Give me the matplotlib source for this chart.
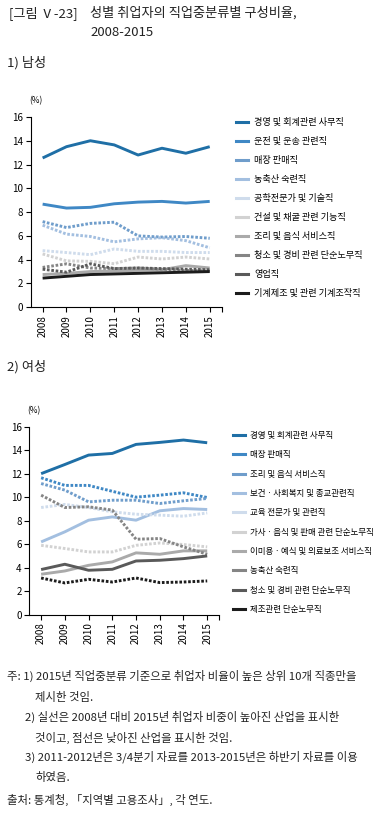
import matplotlib
matplotlib.use("Agg")
import matplotlib.pyplot as plt
from matplotlib.lines import Line2D

plt.rcParams['font.family'] = ['Noto Sans CJK KR', 'DejaVu Sans']

years = [2008, 2009, 2010, 2011, 2012, 2013, 2014, 2015]

# 1) 남성
male_labels = ['경영 및 회계관련 사무직', '운전 및 운송 관련직', '매장 판매직', '농축산 숙련직',
               '공학전문가 및 기술직', '건설 및 채굴 관련 기능직', '조리 및 음식 서비스직',
               '청소 및 경비 관련 단순노무직', '영업직', '기계제조 및 관련 기계조작직']
male_office = [12.55, 13.5, 14.0, 13.65, 12.8, 13.37, 12.95, 13.5]
male_driver = [8.67, 8.34, 8.4, 8.7, 8.84, 8.9, 8.76, 8.9]
male_sales = [7.2, 6.7, 7.05, 7.15, 6.0, 5.9, 5.95, 5.8]
male_farm = [6.9, 6.15, 5.95, 5.5, 5.75, 5.85, 5.6, 5.0]
male_eng = [4.76, 4.6, 4.42, 4.9, 4.7, 4.7, 4.6, 4.6]
male_constr = [4.48, 3.9, 3.86, 3.66, 4.22, 4.06, 4.22, 4.06]
male_cook = [2.75, 2.85, 3.0, 3.05, 3.1, 3.15, 3.5, 3.3]
male_clean = [3.35, 3.65, 3.3, 3.25, 3.3, 3.2, 3.1, 3.05]
male_sell = [3.2, 2.95, 3.65, 3.25, 3.3, 3.25, 3.2, 3.15]
male_machine = [2.45, 2.6, 2.75, 2.8, 2.85, 2.9, 2.95, 3.0]
male_series = [male_office, male_driver, male_sales, male_farm, male_eng,
               male_constr, male_cook, male_clean, male_sell, male_machine]

# 2) 여성
female_labels = ['경영 및 회계관련 사무직', '매장 판매직', '조리 및 음식 서비스직',
                 '보건ㆍ사회복지 및 종교관련직', '교육 전문가 및 관련직',
                 '가사ㆍ음식 및 판매 관련 단순노무직', '이미용ㆍ예식 및 의료보조 서비스직',
                 '농축산 숙련직', '청소 및 경비 관련 단순노무직', '제조관련 단순노무직']
female_office = [12.0, 12.78, 13.58, 13.72, 14.49, 14.66, 14.86, 14.63]
female_sales = [11.65, 11.0, 11.0, 10.5, 10.0, 10.17, 10.37, 9.97]
female_cook = [11.16, 10.6, 9.6, 9.74, 9.74, 9.46, 9.69, 9.89]
female_health = [6.19, 7.05, 8.04, 8.32, 8.04, 8.84, 9.03, 8.95]
female_edu = [9.12, 9.38, 9.12, 8.75, 8.55, 8.47, 8.38, 8.66]
female_house = [5.9, 5.63, 5.34, 5.34, 5.9, 6.1, 5.97, 5.77]
female_beauty = [3.44, 3.72, 4.2, 4.49, 5.26, 5.14, 5.43, 5.43]
female_farm = [10.17, 9.12, 9.18, 8.9, 6.42, 6.48, 5.77, 5.14]
female_clean = [3.84, 4.29, 3.78, 3.86, 4.57, 4.63, 4.77, 5.0]
female_manuf = [3.12, 2.7, 3.01, 2.78, 3.12, 2.73, 2.78, 2.87]
female_series = [female_office, female_sales, female_cook, female_health, female_edu,
                 female_house, female_beauty, female_farm, female_clean, female_manuf]

colors = ['#1f6fa6', '#3f88c5', '#6f9dcb', '#a3bfe0', '#cfdcec',
          '#d2d2d2', '#aaaaaa', '#858585', '#5a5a5a', '#1c1c1c']

dot = (0, (0.9, 0.6))


def draw_panel(ax, series):
    for vals, c in zip(series, colors):
        ls = '-' if vals[-1] > vals[0] else dot
        ax.plot(years, vals, color=c, lw=2.1, linestyle=ls, solid_capstyle='butt')
    ax.set_xlim(2007.5, 2015.5)
    ax.set_ylim(0, 16)
    ax.set_yticks(range(0, 17, 2))
    ax.set_xticks(years)
    ax.set_xticklabels([str(y) for y in years], rotation=90)
    ax.set_xticks([2015.5], minor=True)
    ax.tick_params(axis='both', which='both', labelsize=7, length=3.5, width=0.8,
                   direction='out', pad=2)
    for s in ['top', 'right']:
        ax.spines[s].set_visible(False)
    for s in ['left', 'bottom']:
        ax.spines[s].set_linewidth(0.8)
    ax.text(-0.01, 1.06, '(%)', transform=ax.transAxes, fontsize=6, ha='left', va='bottom')


fig = plt.figure(figsize=(3.85, 8.15), dpi=100)

ax1 = fig.add_axes([0.0797, 0.623, 0.496, 0.2335])
draw_panel(ax1, male_series)
ax2 = fig.add_axes([0.076, 0.2458, 0.493, 0.2307])
draw_panel(ax2, female_series)


def add_legend(labels, x, top, size, spacing):
    handles = [Line2D([], [], color=c, lw=2.2) for c in colors]
    fig.legend(handles, labels, loc='upper left', bbox_to_anchor=(x, top),
               frameon=False, fontsize=size, handlelength=1.4, handletextpad=0.6,
               labelspacing=spacing, borderaxespad=0, borderpad=0)


add_legend(male_labels, 0.612, 1 - 118 / 815, 6.6, 1.08)
add_legend(female_labels, 0.605, 1 - 431 / 815, 6.1, 1.22)

fig.text(0.024, 1 - 13 / 815, '[그림 Ⅴ-23]', fontsize=9.5, va='center', ha='left', color='#222222')
fig.text(0.235, 1 - 13 / 815, '성별 취업자의 직업중분류별 구성비율,', fontsize=9.5, va='center', ha='left', color='#222222')
fig.text(0.235, 1 - 33 / 815, '2008-2015', fontsize=9.5, va='center', ha='left', color='#222222')
fig.text(0.018, 1 - 63 / 815, '1) 남성', fontsize=9.5, va='center', ha='left', color='#222222')
fig.text(0.018, 1 - 367 / 815, '2) 여성', fontsize=9.5, va='center', ha='left', color='#222222')

notes = [
    (0.018, 676, '주: 1) 2015년 직업중분류 기준으로 취업자 비율이 높은 상위 10개 직종만을'),
    (0.091, 697, '제시한 것임.'),
    (0.065, 717, '2) 실선은 2008년 대비 2015년 취업자 비중이 높아진 산업을 표시한'),
    (0.091, 738, '것이고, 점선은 낮아진 산업을 표시한 것임.'),
    (0.065, 757, '3) 2011-2012년은 3/4분기 자료를 2013-2015년은 하반기 자료를 이용'),
    (0.091, 777, '하였음.'),
    (0.018, 800, '출처: 통계청, 「지역별 고용조사」, 각 연도.'),
]
for x, y, t in notes:
    fig.text(x, 1 - y / 815, t, fontsize=8.2, va='center', ha='left', color='#222222')

fig.savefig('out.png', dpi=100)
